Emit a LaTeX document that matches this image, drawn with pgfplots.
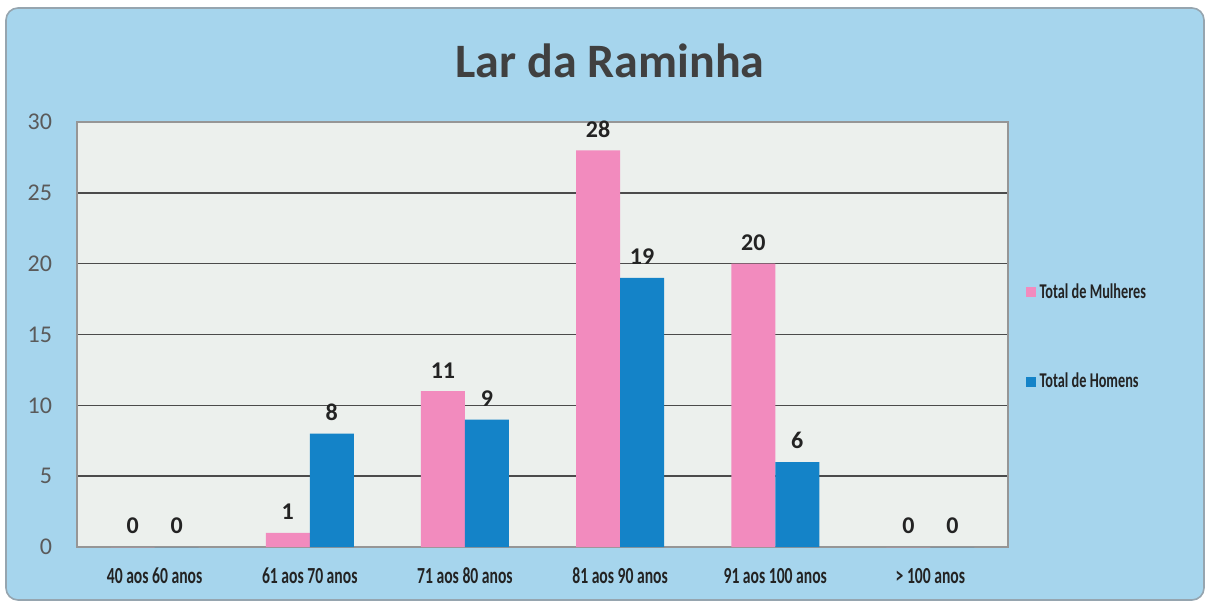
\documentclass[border=0pt]{standalone}
\usepackage{pgfplots}
\pgfplotsset{compat=1.18}
\usepackage{fontspec}
\setmainfont{Carlito}
\newfontfamily\condfont[FakeStretch=0.68]{Carlito}
\definecolor{bgblue}{RGB}{166,213,237}
\definecolor{framegray}{RGB}{150,165,175}
\definecolor{plotbg}{RGB}{236,240,237}
\definecolor{pinkbar}{RGB}{242,139,190}
\definecolor{bluebar}{RGB}{20,131,200}
\definecolor{gridc}{RGB}{75,75,75}
\definecolor{borderc}{RGB}{150,150,150}
\definecolor{titlec}{RGB}{64,64,64}
\definecolor{tickc}{RGB}{90,90,90}
\definecolor{labelc}{RGB}{35,35,35}
\begin{document}
\begin{tikzpicture}[x=1pt,y=1pt]
\fill[white] (0,0) rectangle (604.5,302.5);
\draw[fill=bgblue, draw=framegray, line width=0.8pt, rounded corners=6pt] (3,2.5) rectangle (602,298.5);
\node[font=\bfseries\fontsize{24}{24}\selectfont, text=titlec] at (305,272) {Lar da Raminha};
\begin{axis}[
  at={(38.5pt,29pt)}, anchor=south west,
  scale only axis, width=465.5pt, height=212.5pt,
  xmin=-0.5, xmax=5.5, ymin=0, ymax=30,
  enlargelimits=false,
  ytick={0,5,10,15,20,25,30},
  xtick={0,1,2,3,4,5},
  xticklabels={40 aos 60 anos, 61 aos 70 anos, 71 aos 80 anos, 81 aos 90 anos, 91 aos 100 anos, > 100 anos},
  ybar=0pt, bar width=22pt,
  axis background/.style={fill=plotbg},
  axis line style={draw=borderc, line width=0.6pt},
  major tick length=0pt,
  ymajorgrids, grid style={draw=gridc, line width=0.8pt},
  /pgf/number format/assume math mode=true,
  yticklabel style={font=\fontsize{12}{12}\selectfont, text=tickc, xshift=-9pt},
  xticklabel style={font=\condfont\bfseries\fontsize{11.5}{11.5}\selectfont, text=labelc, yshift=-7pt},
  nodes near coords,
  nodes near coords style={font=\bfseries\fontsize{12}{12}\selectfont, text=labelc, yshift=3pt},
  legend style={at={(1.012,0.494)}, anchor=west, draw=none, fill=none,
     font=\condfont\bfseries\fontsize{10.5}{10.5}\selectfont, text=labelc,
     row sep=32pt},
  legend cell align=left,
  legend image code/.code={\fill[#1] (0pt,-2.5pt) rectangle (5pt,2.5pt);},
]
\addplot[fill=pinkbar, draw=none] coordinates {(0,0) (1,1) (2,11) (3,28) (4,20) (5,0)};
\addplot[fill=bluebar, draw=none] coordinates {(0,0) (1,8) (2,9) (3,19) (4,6) (5,0)};
\legend{Total de Mulheres, Total de Homens}
\end{axis}
\end{tikzpicture}
\end{document}
